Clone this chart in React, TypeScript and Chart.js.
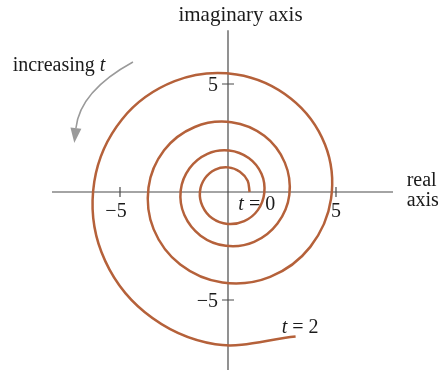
import { useEffect, useRef } from "react";
import { Chart, registerables } from "chart.js";

Chart.register(...registerables);

// Spiral path z(t) in the complex plane from t = 0 to t = 2, sampled at equal steps
const spiralRe = [
  1.0, 0.91, 0.55, 0.01, -0.59, -1.07, -1.3, -1.18, -0.73, -0.02, 0.75, 1.38,
  1.68, 1.55, 0.96, 0.05, -0.95, -1.78, -2.19, -2.02, -1.27, -0.1, 1.21, 2.29,
  2.84, 2.63, 1.68, 0.16, -1.54, -2.96, -3.68, -3.44, -2.21, -0.26, 1.95, 3.81,
  4.77, 4.49, 2.92, 0.39, -2.47, -4.91, -6.19, -5.86, -3.85, -0.59, 3.13,
];
const spiralIm = [
  0, 0.52, 0.94, 1.14, 1.04, 0.63, 0.01, -0.66, -1.22, -1.48, -1.35, -0.84,
  -0.04, 0.84, 1.57, 1.92, 1.77, 1.1, 0.07, -1.07, -2.02, -2.49, -2.31, -1.46,
  -0.13, 1.36, 2.6, 3.23, 3.01, 1.93, 0.21, -1.73, -3.36, -4.19, -3.93, -2.54,
  -0.32, 2.2, 4.32, 5.44, 5.13, 3.36, 0.48, -2.78, -5.57, -7.05, -6.69,
];

const realTicks = [-5, 5];
const realTickLabels = ["\u22125", "5"];
const imagTicks = [5, -5];
const imagTickLabels = ["5", "\u22125"];

// Visible extents of the two axes
const realAxisSpan = [-8.15, 7.64];
const imagAxisSpan = [-8.6, 7.49];

const SERIF = '"Liberation Serif", "Times New Roman", serif';
const FONT = `20px ${SERIF}`;
const FONT_IT = `italic 20px ${SERIF}`;
const SPIRAL_COLOR = "#b5613a";
const AXIS_COLOR = "#4a4a4a";

const complexPlanePlugin = {
  id: "complexPlane",
  beforeDatasetsDraw(chart: any) {
    const { ctx } = chart;
    const xs = chart.scales.x;
    const ys = chart.scales.y;
    const px = (v: number) => xs.getPixelForValue(v);
    const py = (v: number) => ys.getPixelForValue(v);
    ctx.save();
    ctx.strokeStyle = AXIS_COLOR;
    ctx.lineWidth = 1.2;
    ctx.beginPath();
    ctx.moveTo(px(realAxisSpan[0]), py(0));
    ctx.lineTo(px(realAxisSpan[1]), py(0));
    ctx.moveTo(px(0), py(imagAxisSpan[0]));
    ctx.lineTo(px(0), py(imagAxisSpan[1]));
    for (const v of realTicks) {
      ctx.moveTo(px(v), py(0) - 5);
      ctx.lineTo(px(v), py(0) + 5);
    }
    for (const v of imagTicks) {
      ctx.moveTo(px(0) - 6, py(v));
      ctx.lineTo(px(0) + 6, py(v));
    }
    ctx.stroke();

    // "increasing t" direction arrow
    const p0 = [px(-4.4), py(6.02)];
    const c = [px(-6.85), py(4.68)];
    const p1 = [px(-7.04), py(2.96)];
    ctx.strokeStyle = "#9a9a9a";
    ctx.fillStyle = "#9a9a9a";
    ctx.lineWidth = 1.5;
    ctx.beginPath();
    ctx.moveTo(p0[0], p0[1]);
    ctx.quadraticCurveTo(c[0], c[1], p1[0], p1[1]);
    ctx.stroke();
    let dx = p1[0] - c[0];
    let dy = p1[1] - c[1];
    const len = Math.hypot(dx, dy);
    dx /= len;
    dy /= len;
    const headLen = 15;
    const halfW = 5.5;
    ctx.beginPath();
    ctx.moveTo(p1[0] + dx * headLen, p1[1] + dy * headLen);
    ctx.lineTo(p1[0] - dy * halfW, p1[1] + dx * halfW);
    ctx.lineTo(p1[0] + dy * halfW, p1[1] - dx * halfW);
    ctx.closePath();
    ctx.fill();
    ctx.restore();
  },
  afterDatasetsDraw(chart: any) {
    const { ctx } = chart;
    const xs = chart.scales.x;
    const ys = chart.scales.y;
    const px = (v: number) => xs.getPixelForValue(v);
    const py = (v: number) => ys.getPixelForValue(v);
    ctx.save();
    ctx.fillStyle = "#1a1a1a";
    ctx.font = FONT;
    ctx.textBaseline = "alphabetic";

    // tick labels
    ctx.textAlign = "center";
    realTicks.forEach((v, i) => {
      ctx.fillText(realTickLabels[i], px(v) - (v < 0 ? 4 : 0), py(0) + 25);
    });
    ctx.textAlign = "right";
    imagTicks.forEach((v, i) => {
      ctx.fillText(imagTickLabels[i], px(0) - 10, py(v) + 7);
    });

    // axis titles
    ctx.textAlign = "center";
    ctx.font = `21px ${SERIF}`;
    ctx.fillText("imaginary axis", px(0) + 12.5, py(imagAxisSpan[1]) - 9);
    ctx.font = FONT;
    ctx.textAlign = "left";
    ctx.fillText("real", px(8.27), py(0) - 6);
    ctx.fillText("axis", px(8.27), py(0) + 14);

    // parameter annotations: text with italic t
    const labelWithT = (rest: string, x: number, y: number) => {
      ctx.font = FONT_IT;
      ctx.fillText("t", x, y);
      const w = ctx.measureText("t").width;
      ctx.font = FONT;
      ctx.fillText(rest, x + w, y);
    };
    labelWithT(" = 0", px(0.48), py(-0.83));
    labelWithT(" = 2", px(2.49), py(-6.54));

    ctx.font = FONT;
    const lead = "increasing ";
    ctx.fillText(lead, px(-9.97), py(5.62));
    const lw = ctx.measureText(lead).width;
    ctx.font = FONT_IT;
    ctx.fillText("t", px(-9.97) + lw, py(5.62));
    ctx.restore();
  },
};

export default function App() {
  const canvasRef = useRef<HTMLCanvasElement | null>(null);

  useEffect(() => {
    const canvas = canvasRef.current;
    if (!canvas) return;
    const chart = new Chart(canvas, {
      type: "scatter",
      data: {
        datasets: [
          {
            data: spiralRe.map((re, i) => ({ x: re, y: spiralIm[i] })),
            showLine: true,
            borderColor: SPIRAL_COLOR,
            borderWidth: 2.5,
            pointRadius: 0,
            tension: 0.35,
            fill: false,
          },
        ],
      },
      options: {
        animation: false,
        responsive: false,
        events: [],
        layout: { padding: 0 },
        plugins: {
          legend: { display: false },
          tooltip: { enabled: false },
        },
        scales: {
          x: { type: "linear", display: false, min: -10.5556, max: 9.8611 },
          y: { type: "linear", display: false, min: -8.2407, max: 8.8889 },
        },
      },
      plugins: [complexPlanePlugin],
    });
    return () => chart.destroy();
  }, []);

  return (
    <div style={{ position: "absolute", left: 0, top: 0, width: 441, height: 370, background: "#fff" }}>
      <canvas ref={canvasRef} width={441} height={370} style={{ width: 441, height: 370 }} />
    </div>
  );
}
